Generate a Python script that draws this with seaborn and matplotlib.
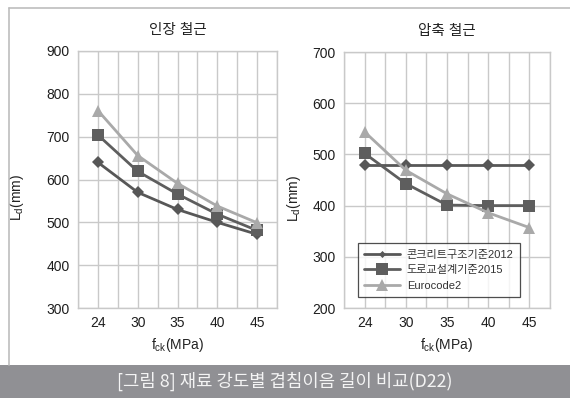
import matplotlib
matplotlib.use("Agg")
import matplotlib.pyplot as plt
import seaborn as sns
import pandas as pd
from matplotlib.patches import Rectangle
from matplotlib.lines import Line2D

sns.set_theme(style="white")
plt.rcParams['font.family'] = ['Liberation Sans', 'Noto Sans CJK KR', 'DejaVu Sans']
plt.rcParams['mathtext.default'] = 'regular'

categories = ["24", "30", "35", "40", "45"]
series_names = ["콘크리트구조기준2012", "도로교설계기준2015", "Eurocode2"]

tension_kci = [640, 570, 530, 500, 472]
tension_road = [704, 619, 566, 519, 481]
tension_euro = [761, 656, 591, 538, 499]

comp_kci = [480, 480, 480, 480, 480]
comp_road = [502, 443, 401, 400, 400]
comp_euro = [544, 469, 423, 386, 357]

titles = ["인장 철근", "압축 철근"]
caption = "[그림 8] 재료 강도별 겹침이음 길이 비교(D22)"

colors = {series_names[0]: "#575757", series_names[1]: "#5e5e5e", series_names[2]: "#a9a9a9"}
markers = {series_names[0]: "D", series_names[1]: "s", series_names[2]: "^"}
msizes = {series_names[0]: 6, series_names[1]: 8.5, series_names[2]: 8.5}


def make_df(a, b, c):
    rows = []
    for name, vals in zip(series_names, [a, b, c]):
        for i, v in enumerate(vals):
            rows.append({"pos": i, "series": name, "value": v})
    return pd.DataFrame(rows)


fig = plt.figure(figsize=(5.7, 3.98), dpi=100)
fig.patch.set_facecolor("white")

W, H = 570, 398
ax1 = fig.add_axes([78 / W, 1 - 308 / H, 199 / W, 257 / H])
ax2 = fig.add_axes([344 / W, 1 - 308 / H, 206 / W, 256 / H])

datasets = [make_df(tension_kci, tension_road, tension_euro),
            make_df(comp_kci, comp_road, comp_euro)]
ylims = [(300, 900), (200, 700)]
ylabel_x = [-0.26, -0.20]

grid_c = "#c9c9c9"
for k, (ax, df) in enumerate(zip([ax1, ax2], datasets)):
    for name in series_names:
        sub = df[df["series"] == name]
        sns.lineplot(data=sub, x="pos", y="value", ax=ax, color=colors[name],
                     marker=markers[name], markersize=msizes[name], linewidth=2.0,
                     markeredgewidth=0, legend=False)
    ax.set_xlim(-0.5, 4.5)
    ax.set_ylim(*ylims[k])
    ax.set_yticks(range(ylims[k][0], ylims[k][1] + 1, 100))
    ax.set_xticks(range(len(categories)))
    ax.set_xticklabels(categories)
    ax.set_xticks([i - 0.5 for i in range(len(categories) + 1)], minor=True)
    ax.grid(True, which="major", color=grid_c, linewidth=1.0)
    ax.grid(True, which="minor", axis="x", color=grid_c, linewidth=1.0)
    ax.set_axisbelow(True)
    for s in ax.spines.values():
        s.set_color(grid_c)
        s.set_linewidth(1.0)
    ax.tick_params(axis="both", which="both", length=0, labelsize=10, colors="#1e1e1e", pad=6)
    ax.set_xlabel("f$_{ck}$(MPa)", fontsize=10, color="#222222", labelpad=4)
    ax.set_ylabel("L$_d$(mm)", fontsize=10, color="#222222")
    ax.yaxis.set_label_coords(ylabel_x[k], 0.43)
    ax.set_title(titles[k], fontsize=10.5, color="#222222", pad=12)

handles = [Line2D([0], [0], color=colors[n], marker=markers[n],
                  markersize=msizes[n] * (0.6 if n == series_names[0] else 0.95),
                  markeredgewidth=0, linewidth=2.0) for n in series_names]
leg = ax2.legend(handles, series_names, loc="lower left", bbox_to_anchor=(0.04, 0.02),
                 fontsize=8, frameon=True, fancybox=False, handlelength=3.2,
                 borderpad=0.6, labelspacing=0.5, handletextpad=0.6)
leg.get_frame().set_edgecolor("#222222")
leg.get_frame().set_linewidth(0.9)
for t in leg.get_texts():
    t.set_color("#333333")

# caption band
fig.patches.append(Rectangle((0, 0), 1, 33 / H, transform=fig.transFigure,
                             facecolor="#909094", edgecolor="none", zorder=0))
fig.text(285 / W, 16.5 / H, caption, ha="center", va="center", color="#f4f4f4",
         fontsize=12.8, family=['Noto Sans CJK KR', 'DejaVu Sans'])

# outer frame
fig.lines.append(Line2D([8.5 / W, 8.5 / W], [33 / H, 1 - 8 / H], transform=fig.transFigure,
                        color="#bdbdbd", linewidth=1.2))
fig.lines.append(Line2D([8.5 / W, 1], [1 - 8 / H, 1 - 8 / H], transform=fig.transFigure,
                        color="#bdbdbd", linewidth=1.2))

fig.savefig("out.png", dpi=100, facecolor="white")
